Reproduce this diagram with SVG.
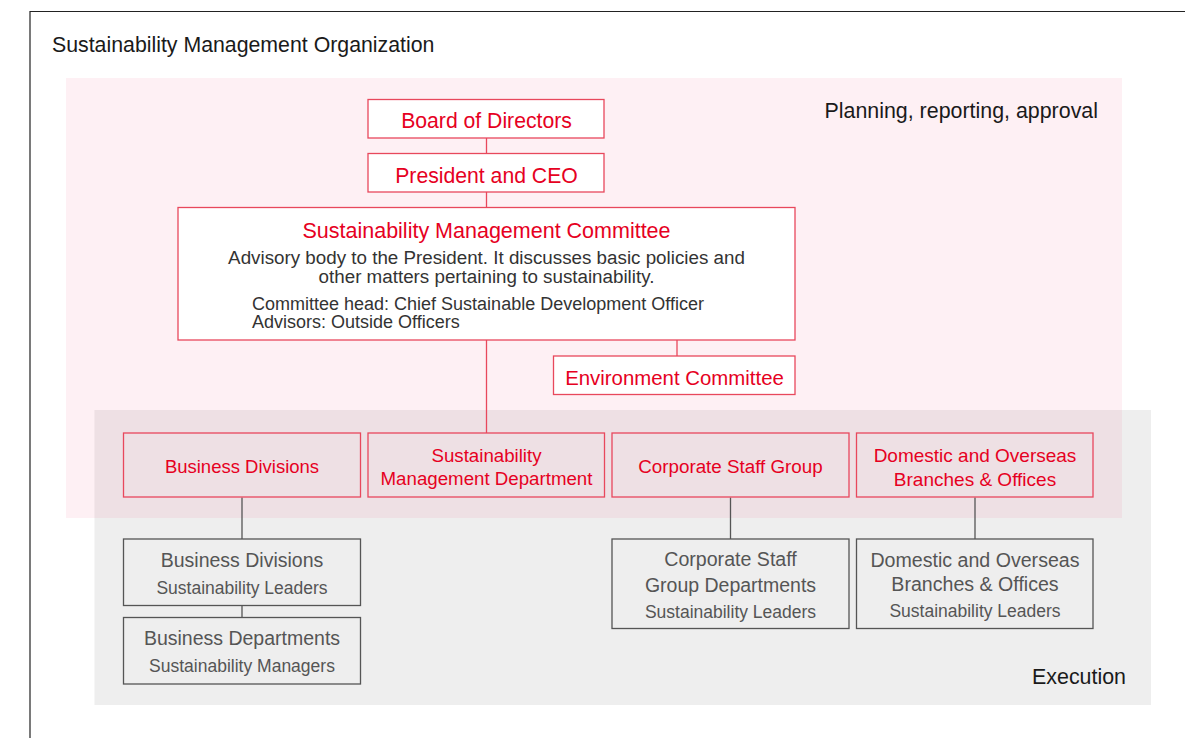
<svg xmlns="http://www.w3.org/2000/svg" width="1185" height="738" viewBox="0 0 1185 738">
<style>
text{font-family:"Liberation Sans",Arial,sans-serif;}
.rb{fill:#ffffff;stroke:#e8485c;stroke-width:1.3;}
.rbt{fill:none;stroke:#e8485c;stroke-width:1.3;}
.gb{fill:none;stroke:#555555;stroke-width:1.3;}
.rt{fill:#e60022;text-anchor:middle;}
.gt{fill:#555555;text-anchor:middle;}
.dt{fill:#333333;}
.blk{fill:#1a1a1a;}
.rl{stroke:#e8485c;stroke-width:1.3;fill:none;}
.gl{stroke:#555555;stroke-width:1.3;fill:none;}
</style>
<rect x="0" y="0" width="1185" height="738" fill="#ffffff"/>
<path d="M30 738 V11.5 H1185" fill="none" stroke="#222" stroke-width="1.2"/>
<text x="52" y="52" font-size="21.3" class="blk">Sustainability Management Organization</text>
<rect x="94.5" y="410" width="1056.5" height="295" fill="#eeeeee"/>
<rect x="66" y="78" width="1056" height="440" fill="#e6003c" fill-opacity="0.058"/>
<text x="1098" y="118" font-size="21.4" text-anchor="end" class="blk">Planning, reporting, approval</text>
<text x="1126" y="684" font-size="21.4" text-anchor="end" class="blk">Execution</text>
<g id="connectors">
<line class="rl" x1="486.5" y1="138" x2="486.5" y2="153"/>
<line class="rl" x1="486.5" y1="192" x2="486.5" y2="207.5"/>
<line class="rl" x1="486.5" y1="340" x2="486.5" y2="433"/>
<line class="rl" x1="677" y1="340" x2="677" y2="356"/>
<line class="gl" x1="242" y1="497.5" x2="242" y2="539"/>
<line class="gl" x1="242" y1="605.5" x2="242" y2="617.5"/>
<line class="gl" x1="730.5" y1="497.5" x2="730.5" y2="539"/>
<line class="gl" x1="975" y1="497.5" x2="975" y2="539"/>
</g>
<g id="board">
<rect class="rb" x="368" y="99.5" width="236" height="38.5"/>
<text class="rt" x="486.5" y="128.3" font-size="21.2">Board of Directors</text>
</g>
<g id="president">
<rect class="rb" x="368" y="153.5" width="236" height="38.5"/>
<text class="rt" x="486.5" y="182.7" font-size="21.2">President and CEO</text>
</g>
<g id="smc">
<rect class="rb" x="178" y="207.5" width="617" height="132.5"/>
<text class="rt" x="486.5" y="238.3" font-size="21.5">Sustainability Management Committee</text>
<text class="dt" font-size="18.8" text-anchor="middle"><tspan x="486.5" y="263.8">Advisory body to the President. It discusses basic policies and</tspan><tspan x="486.5" y="283.2">other matters pertaining to sustainability.</tspan></text>
<text class="dt" font-size="18"><tspan x="252" y="310">Committee head: Chief Sustainable Development Officer</tspan><tspan x="252" y="328.3">Advisors: Outside Officers</tspan></text>
</g>
<g id="env">
<rect class="rb" x="553.5" y="356" width="241.5" height="38.5"/>
<text class="rt" x="674.5" y="385" font-size="20.4">Environment Committee</text>
</g>
<g id="bd">
<rect class="rbt" x="123.5" y="433" width="237" height="64"/>
<text class="rt" x="242" y="473.3" font-size="18.5">Business Divisions</text>
</g>
<g id="smd">
<rect class="rbt" x="368" y="433" width="236.5" height="64"/>
<text class="rt" font-size="18.7"><tspan x="486.5" y="461.5">Sustainability</tspan><tspan x="486.5" y="485">Management Department</tspan></text>
</g>
<g id="csg">
<rect class="rbt" x="612" y="433" width="237" height="64"/>
<text class="rt" x="730.5" y="473.3" font-size="18.8">Corporate Staff Group</text>
</g>
<g id="dob">
<rect class="rbt" x="856.5" y="433" width="236.5" height="64"/>
<text class="rt" font-size="19"><tspan x="975" y="461.7">Domestic and Overseas</tspan><tspan x="975" y="485.7">Branches &amp; Offices</tspan></text>
</g>
<g id="bd-leaders">
<rect class="gb" x="123.5" y="539" width="237" height="66.5"/>
<text class="gt" x="242" y="567" font-size="19.5">Business Divisions</text>
<text class="gt" x="242" y="593.7" font-size="17.5">Sustainability Leaders</text>
</g>
<g id="bdept-managers">
<rect class="gb" x="123.5" y="617.5" width="237" height="66.5"/>
<text class="gt" x="242" y="645" font-size="19.5">Business Departments</text>
<text class="gt" x="242" y="672" font-size="17.5">Sustainability Managers</text>
</g>
<g id="csg-leaders">
<rect class="gb" x="612" y="539" width="237" height="89.5"/>
<text class="gt" x="730.5" y="565.7" font-size="19.6">Corporate Staff</text>
<text class="gt" x="730.5" y="592.3" font-size="19.5">Group Departments</text>
<text class="gt" x="730.5" y="618.3" font-size="17.5">Sustainability Leaders</text>
</g>
<g id="dob-leaders">
<rect class="gb" x="856.5" y="539" width="236.5" height="89.5"/>
<text class="gt" x="975" y="566.7" font-size="19.6">Domestic and Overseas</text>
<text class="gt" x="975" y="590.7" font-size="19.6">Branches &amp; Offices</text>
<text class="gt" x="975" y="617.3" font-size="17.5">Sustainability Leaders</text>
</g>
</svg>
